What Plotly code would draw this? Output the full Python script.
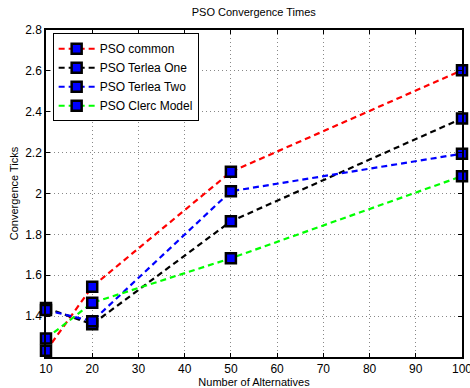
import plotly.graph_objects as go

alternatives = [10, 20, 50, 100]
pso_common = [1.23, 1.544, 2.106, 2.603]
pso_terlea_one = [1.44, 1.36, 1.864, 2.367]
pso_terlea_two = [1.43, 1.375, 2.011, 2.195]
pso_clerc = [1.29, 1.465, 1.683, 2.085]

series = [
    ("PSO common", pso_common, "#ff0000"),
    ("PSO Terlea One", pso_terlea_one, "#000000"),
    ("PSO Terlea Two", pso_terlea_two, "#0000ff"),
    ("PSO Clerc Model", pso_clerc, "#00ff00"),
]

x_ticks = [10, 20, 30, 40, 50, 60, 70, 80, 90, 100]
y_ticks = [1.4, 1.6, 1.8, 2.0, 2.2, 2.4, 2.6, 2.8]
y_labels = ["1.4", "1.6", "1.8", "2", "2.2", "2.4", "2.6", "2.8"]

fig = go.Figure()
for name, vals, col in series:
    fig.add_trace(go.Scatter(
        x=alternatives, y=vals, name=name, mode="lines+markers",
        line=dict(color=col, width=2.2, dash="6px,4px"),
        marker=dict(symbol="square", size=10, color="#0000ff",
                    line=dict(color="#000000", width=2.5)),
        cliponaxis=False,
    ))

font = dict(family="Liberation Sans, Arial, Helvetica, sans-serif", size=12, color="#000000")
fig.update_layout(
    width=470, height=388,
    margin=dict(l=46, r=8, t=30, b=31, autoexpand=False),
    paper_bgcolor="white", plot_bgcolor="white",
    font=font,
    title=dict(text="PSO Convergence Times", x=0.54, xanchor="center", y=1 - 12 / 388, yanchor="middle",
               font=dict(size=11)),
    showlegend=True,
    legend=dict(x=0.016, y=0.99, xanchor="left", yanchor="top",
                bgcolor="white", bordercolor="black", borderwidth=1,
                font=dict(size=12), tracegroupgap=0, itemwidth=36),
)
fig.update_xaxes(
    range=[10, 100], tickvals=x_ticks, ticks="inside", ticklen=4, tickcolor="black",
    ticklabeloverflow="allow", automargin=False,
    showline=True, linecolor="black", linewidth=1.5, mirror="ticks",
    showgrid=True, gridcolor="#888888", griddash="1px,3px", gridwidth=1,
    zeroline=False, title=dict(text="Number of Alternatives", standoff=0, font=dict(size=11)),
)
fig.update_yaxes(
    range=[1.2, 2.8], tickvals=y_ticks, ticktext=y_labels, ticks="inside", ticklen=4, tickcolor="black",
    automargin=False,
    showline=True, linecolor="black", linewidth=1.5, mirror="ticks",
    showgrid=True, gridcolor="#888888", griddash="1px,3px", gridwidth=1,
    zeroline=False, title=dict(text="Convergence Ticks", standoff=4, font=dict(size=11)),
)
fig.write_html("out.html", config={"displayModeBar": False},
               post_script="document.body.style.margin='0';document.body.style.overflow='hidden';")
